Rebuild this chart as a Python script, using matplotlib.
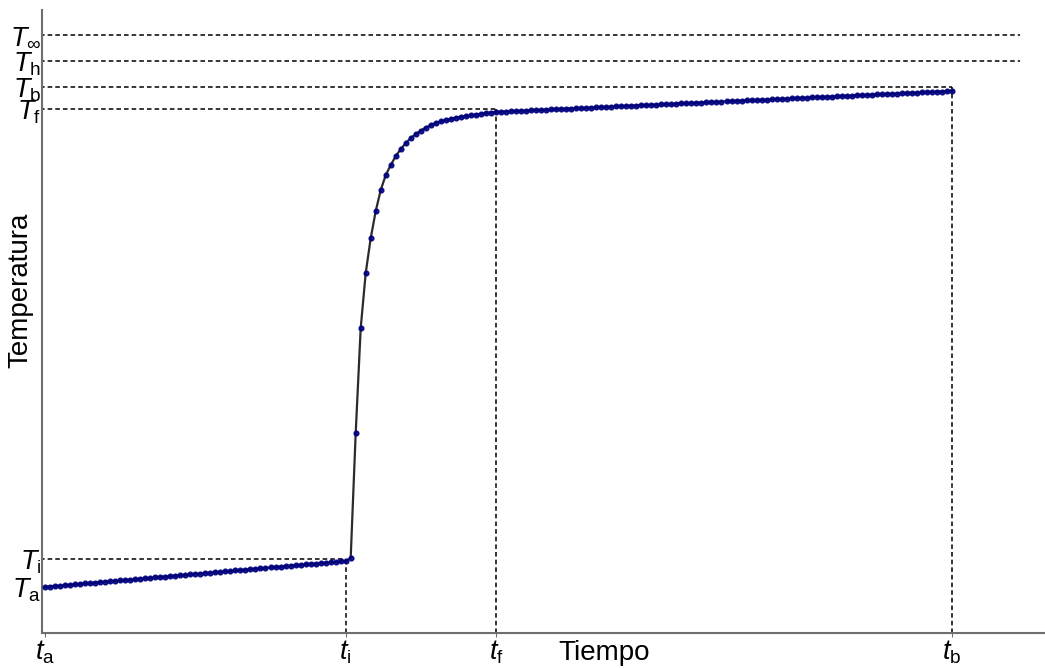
#!/usr/bin/env python3
"""Curva de temperatura frente a tiempo (calorimetría)."""

import numpy as np
import matplotlib
matplotlib.use("Agg")
import matplotlib.pyplot as plt

plt.rcParams["font.family"] = ["Liberation Sans", "DejaVu Sans"]
plt.rcParams["mathtext.fontset"] = "custom"
plt.rcParams["mathtext.rm"] = "Liberation Sans"
plt.rcParams["mathtext.it"] = "Liberation Sans:italic"

# ── datos (unidades arbitrarias) ──────────────────────────────────
# periodo inicial (ta -> ti)
T_pre = [4.60, 4.64, 4.69, 4.73, 4.77, 4.82, 4.86, 4.90, 4.95, 4.99,
         5.03, 5.08, 5.12, 5.16, 5.21, 5.25, 5.29, 5.34, 5.38, 5.42,
         5.47, 5.51, 5.55, 5.60, 5.64, 5.68, 5.73, 5.77, 5.81, 5.86,
         5.90, 5.94, 5.99, 6.03, 6.07, 6.12, 6.16, 6.20, 6.25, 6.29,
         6.33, 6.38, 6.42, 6.46, 6.51, 6.55, 6.59, 6.64, 6.68, 6.72,
         6.77, 6.81, 6.85, 6.90, 6.94, 6.98, 7.03, 7.07, 7.11, 7.16,
         7.20]
# periodo principal (ti -> tf)
T_main = [7.50, 20.00, 30.50, 36.00, 39.50, 42.20, 44.30, 45.80, 46.80, 47.70,
          48.40, 49.00, 49.50, 49.90, 50.25, 50.55, 50.80, 51.00, 51.17, 51.30,
          51.42, 51.52, 51.62, 51.70, 51.78, 51.85, 51.92, 51.99, 52.05, 52.11]
# periodo final (tf -> tb)
T_post = [52.13, 52.15, 52.18, 52.20, 52.22, 52.25, 52.27, 52.29, 52.31, 52.34,
          52.36, 52.38, 52.41, 52.43, 52.45, 52.48, 52.50, 52.52, 52.54, 52.57,
          52.59, 52.61, 52.64, 52.66, 52.68, 52.71, 52.73, 52.75, 52.77, 52.80,
          52.82, 52.84, 52.87, 52.89, 52.91, 52.94, 52.96, 52.98, 53.00, 53.03,
          53.05, 53.07, 53.10, 53.12, 53.14, 53.17, 53.19, 53.21, 53.23, 53.26,
          53.28, 53.30, 53.33, 53.35, 53.37, 53.40, 53.42, 53.44, 53.46, 53.49,
          53.51, 53.53, 53.56, 53.58, 53.60, 53.63, 53.65, 53.67, 53.69, 53.72,
          53.74, 53.76, 53.79, 53.81, 53.83, 53.86, 53.88, 53.90, 53.92, 53.95,
          53.97, 53.99, 54.02, 54.04, 54.06, 54.09, 54.11, 54.13, 54.15, 54.18,
          54.20]

temps = np.array(T_pre + T_main + T_post)
times = np.arange(len(temps))          # una lectura por intervalo

# instantes y temperaturas de referencia
t_names = ["a", "i", "f", "b"]
t_vals = [0, 60, 90, 181]
T_names = ["a", "i", "f", "b", "h", r"\infty"]
T_vals = [4.6, 7.4, 52.4, 54.6, 57.25, 59.85]

FONT = 20
TICK_FONT = 19.5
DASH = dict(color="black", lw=1.1, linestyle=(0, (3, 2)))
AXIS_GRAY = "#6e6e6e"

fig = plt.figure(figsize=(10.45, 6.68), dpi=100)
ax = fig.add_axes([0.0402, 0.0524, 0.96, 0.9326])

T_a, T_i, T_f, T_b, T_h, T_inf = T_vals
t_a, t_i, t_f, t_b = t_vals
x_end = 194.6

# líneas de referencia discontinuas
ax.plot([-1, t_i], [T_i, T_i], **DASH)
ax.plot([t_i, t_i], [0, T_i], **DASH)
ax.plot([-1, t_f], [T_f, T_f], **DASH)
ax.plot([t_f, t_f], [0, T_f], **DASH)
ax.plot([-1, t_b], [T_b, T_b], **DASH)
ax.plot([t_b, t_b], [0, T_b], **DASH)
ax.plot([-1, x_end], [T_h, T_h], **DASH)
ax.plot([-1, x_end], [T_inf, T_inf], **DASH)

# curva
ax.plot(times, temps, color="#2b2b2b", lw=1.6, zorder=3)
ax.plot(times, temps, linestyle="none", marker="o", ms=3.4,
        color="#000080", mec="#000080", alpha=0.9, zorder=4)

ax.set_xlim(-0.6, 199.6)
ax.set_ylim(0, 62.3)

ax.set_xticks(t_vals)
ax.set_xticklabels([f"$t_\\mathrm{{{n}}}$" for n in t_names], fontsize=TICK_FONT)
ax.set_yticks(T_vals)
ax.set_yticklabels([f"$T_\\mathrm{{{n}}}$" if n != r"\infty" else r"$T_\infty$"
                    for n in T_names], fontsize=TICK_FONT)
ax.tick_params(axis="x", length=3, width=0.8, color=AXIS_GRAY, pad=1)
ax.tick_params(axis="y", length=0, pad=0.5)

ax.set_xlabel("Tiempo", fontsize=FONT)
ax.xaxis.set_label_coords(0.56, -0.012)
ax.set_ylabel("Temperatura", fontsize=FONT)
ax.yaxis.set_label_coords(-0.009, 0.55)

for side in ["top", "right"]:
    ax.spines[side].set_visible(False)
for side in ["left", "bottom"]:
    ax.spines[side].set_color(AXIS_GRAY)
    ax.spines[side].set_linewidth(1.5)

fig.savefig("out.png", dpi=100)
